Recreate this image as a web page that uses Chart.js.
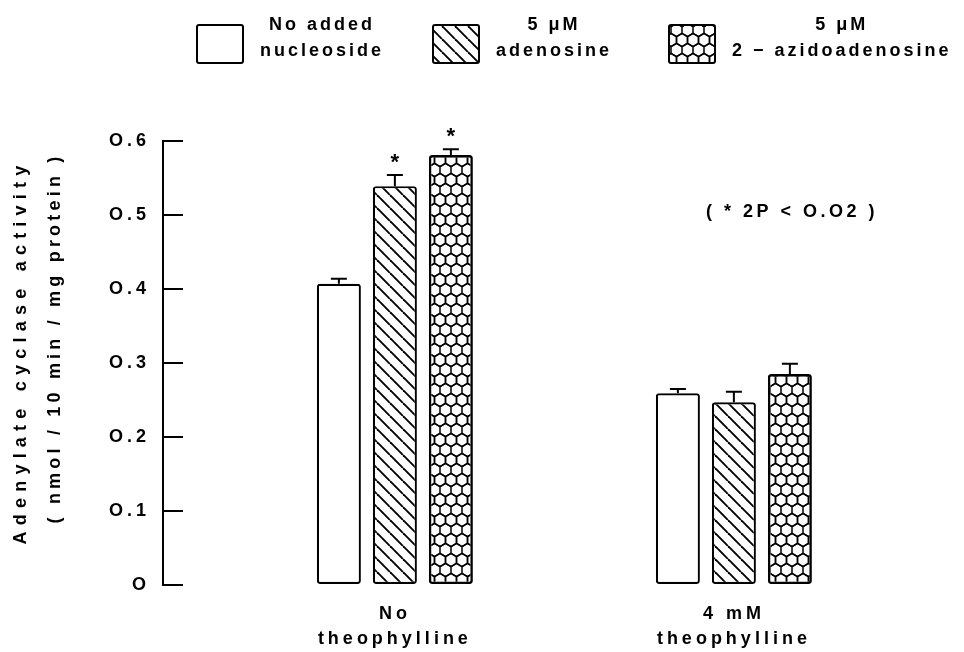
<!DOCTYPE html>
<html lang="en">

<head>
    <meta charset="UTF-8">
    <title>Adenylate cyclase activity</title>
    <script src="https://cdn.jsdelivr.net/npm/chart.js"></script>
    <style>
        body {
            margin: 0;
            background-color: #fff
        }

        #container {
            width: 964px;
            height: 652px
        }
    </style>
</head>

<body>
    <div id="container">
        <canvas id="mycanvas"></canvas>
    </div>

    <script>
        // 資料
        const categories = [['No', 'theophylline'], ['4 mM', 'theophylline']]
        const seriesNames = [['No added', 'nucleoside'], ['5 μM', 'adenosine'], ['5 μM', '2 − azidoadenosine']]
        const noNucleoside = [0.407, 0.259]
        const adenosine = [0.539, 0.247]
        const azidoadenosine = [0.581, 0.285]
        const noNucleosideErr = [0.007, 0.006]
        const adenosineErr = [0.015, 0.014]
        const azidoadenosineErr = [0.008, 0.014]
        const noNucleosideStar = [false, false]
        const adenosineStar = [true, false]
        const azidoadenosineStar = [true, false]
        const yTickLabels = ['O', 'O.1', 'O.2', 'O.3', 'O.4', 'O.5', 'O.6']
        const yTitle = ['Adenylate cyclase activity', '( nmol / 10 min / mg protein )']
        const note = '( * 2P < O.O2 )'

        const family = "'Liberation Sans', Arial, sans-serif"

        // 斜線圖樣
        function hatchPattern() {
            const n = 13
            const c = document.createElement('canvas')
            c.width = n; c.height = n
            const g = c.getContext('2d')
            g.fillStyle = '#fff'
            g.fillRect(0, 0, n, n)
            g.strokeStyle = '#000'
            g.lineWidth = 1.9
            for (const k of [-1, 0, 1]) {
                g.beginPath()
                g.moveTo(k * n, 0)
                g.lineTo(k * n + n, n)
                g.stroke()
            }
            return g.createPattern(c, 'repeat')
        }

        // 蜂巢圖樣
        function honeycombPattern() {
            const w = 11, h = 20, r = h / 3
            const c = document.createElement('canvas')
            c.width = w; c.height = h
            const g = c.getContext('2d')
            g.fillStyle = '#fff'
            g.fillRect(0, 0, w, h)
            g.strokeStyle = '#000'
            g.lineWidth = 1.5
            const centers = [[0, 0], [w, 0], [w / 2, h / 2], [0, h], [w, h], [w / 2, -h / 2], [w / 2, h * 1.5]]
            centers.forEach(([cx, cy]) => {
                g.beginPath()
                g.moveTo(cx, cy - r)
                g.lineTo(cx + w / 2, cy - r / 2)
                g.lineTo(cx + w / 2, cy + r / 2)
                g.lineTo(cx, cy + r)
                g.lineTo(cx - w / 2, cy + r / 2)
                g.lineTo(cx - w / 2, cy - r / 2)
                g.closePath()
                g.stroke()
            })
            return g.createPattern(c, 'repeat')
        }

        // 依目標寬度調整字距
        function fitText(ctx, text, x, y, width) {
            ctx.letterSpacing = '0px'
            const natural = ctx.measureText(text).width
            ctx.letterSpacing = ((width - natural) / text.length) + 'px'
            ctx.fillText(text, x, y)
        }

        const decorations = {
            id: 'decorations',
            beforeLayout(chart) {
                chart.ctx.letterSpacing = '4px'
            },
            beforeDraw(chart) {
                chart.ctx.letterSpacing = '4px'
            },
            afterDatasetsDraw(chart) {
                const ctx = chart.ctx
                const y = chart.scales.y
                chart.data.datasets.forEach((ds, i) => {
                    chart.getDatasetMeta(i).data.forEach((bar, j) => {
                        const top = y.getPixelForValue(ds.data[j].y + ds.errors[j])
                        ctx.save()
                        ctx.strokeStyle = '#000'
                        ctx.lineWidth = 2
                        ctx.beginPath()
                        ctx.moveTo(bar.x, bar.y)
                        ctx.lineTo(bar.x, top)
                        ctx.moveTo(bar.x - 8, top)
                        ctx.lineTo(bar.x + 8, top)
                        ctx.stroke()
                        if (ds.stars[j]) {
                            ctx.letterSpacing = '0px'
                            ctx.fillStyle = '#000'
                            ctx.font = 'bold 22px ' + family
                            ctx.textAlign = 'center'
                            ctx.textBaseline = 'alphabetic'
                            ctx.fillText('*', bar.x, top - 19 + 12.5)
                        }
                        ctx.restore()
                    })
                })
            },
            afterDraw(chart) {
                const ctx = chart.ctx
                ctx.save()
                ctx.fillStyle = '#000'
                ctx.strokeStyle = '#000'
                ctx.font = 'bold 18px ' + family
                ctx.textAlign = 'center'
                ctx.textBaseline = 'middle'

                // 圖例
                chart.data.datasets.forEach((ds, i) => {
                    const bx = 197 + i * 236, by = 25
                    ctx.fillStyle = ds.backgroundColor
                    ctx.lineWidth = 2
                    ctx.beginPath()
                    ctx.roundRect(bx, by, 46, 38, 2)
                    ctx.fill()
                    ctx.stroke()
                    ctx.fillStyle = '#000'
                    ctx.letterSpacing = '3px'
                    const widths = ds.lines.map(t => ctx.measureText(t).width)
                    const cx = bx + 46 + 17 + Math.max(...widths) / 2
                    ds.lines.forEach((t, k) => ctx.fillText(t, cx, 25 + k * 26))
                })

                // Y 軸標題
                ctx.font = 'bold 18px ' + family
                ctx.save()
                ctx.translate(21, 352)
                ctx.rotate(-Math.PI / 2)
                fitText(ctx, yTitle[0], 0, 0, 385)
                ctx.restore()
                ctx.save()
                ctx.translate(55, 338)
                ctx.rotate(-Math.PI / 2)
                fitText(ctx, yTitle[1], 0, 0, 371)
                ctx.restore()

                // 註解
                ctx.font = 'bold 18px ' + family
                fitText(ctx, note, 792, 212, 172)
                ctx.restore()
            }
        }

        const fills = ['#fff', hatchPattern(), honeycombPattern()]
        const values = [noNucleoside, adenosine, azidoadenosine]
        const errors = [noNucleosideErr, adenosineErr, azidoadenosineErr]
        const stars = [noNucleosideStar, adenosineStar, azidoadenosineStar]

        const chart = new Chart(document.getElementById('mycanvas'), {
            type: 'bar',
            data: {
                datasets: values.map((v, i) => ({
                    label: seriesNames[i].join(' '),
                    lines: seriesNames[i],
                    data: v.map((y, j) => ({ x: j, y: y })),
                    errors: errors[i],
                    stars: stars[i],
                    backgroundColor: fills[i],
                    borderColor: '#000',
                    borderWidth: i === 2 ? 2.6 : 2.2,
                    borderSkipped: false,
                    borderRadius: 3
                }))
            },
            options: {
                responsive: true,
                maintainAspectRatio: false,
                animation: false,
                layout: { padding: { top: 141, right: 24, left: 0, bottom: 0 } },
                datasets: {
                    bar: { categoryPercentage: 168 / 339, barPercentage: 44 / 56 }
                },
                plugins: {
                    legend: { display: false },
                    tooltip: { enabled: false }
                },
                scales: {
                    x: {
                        type: 'linear',
                        bounds: 'data',
                        offset: false,
                        min: -0.684,
                        max: 1.608,
                        grid: { display: false, drawTicks: false },
                        border: { display: false },
                        afterBuildTicks: s => { s.ticks = categories.map((c, i) => ({ value: i })) },
                        afterFit: s => { s.height = 67 },
                        ticks: {
                            callback: v => categories[v],
                            color: '#000',
                            padding: 17,
                            font: { family: family, size: 18, weight: 'bold', lineHeight: 25 / 18 }
                        }
                    },
                    y: {
                        min: 0,
                        max: 0.6,
                        afterFit: s => { s.width = 163 },
                        ticks: {
                            stepSize: 0.1,
                            callback: (v, i) => yTickLabels[i],
                            color: '#000',
                            padding: 33,
                            font: { family: family, size: 18, weight: 'bold' }
                        },
                        grid: { drawOnChartArea: false, tickLength: -20, color: '#000', lineWidth: 2 },
                        border: { color: '#000', width: 2 }
                    }
                }
            },
            plugins: [decorations]
        })
    </script>
</body>

</html>
